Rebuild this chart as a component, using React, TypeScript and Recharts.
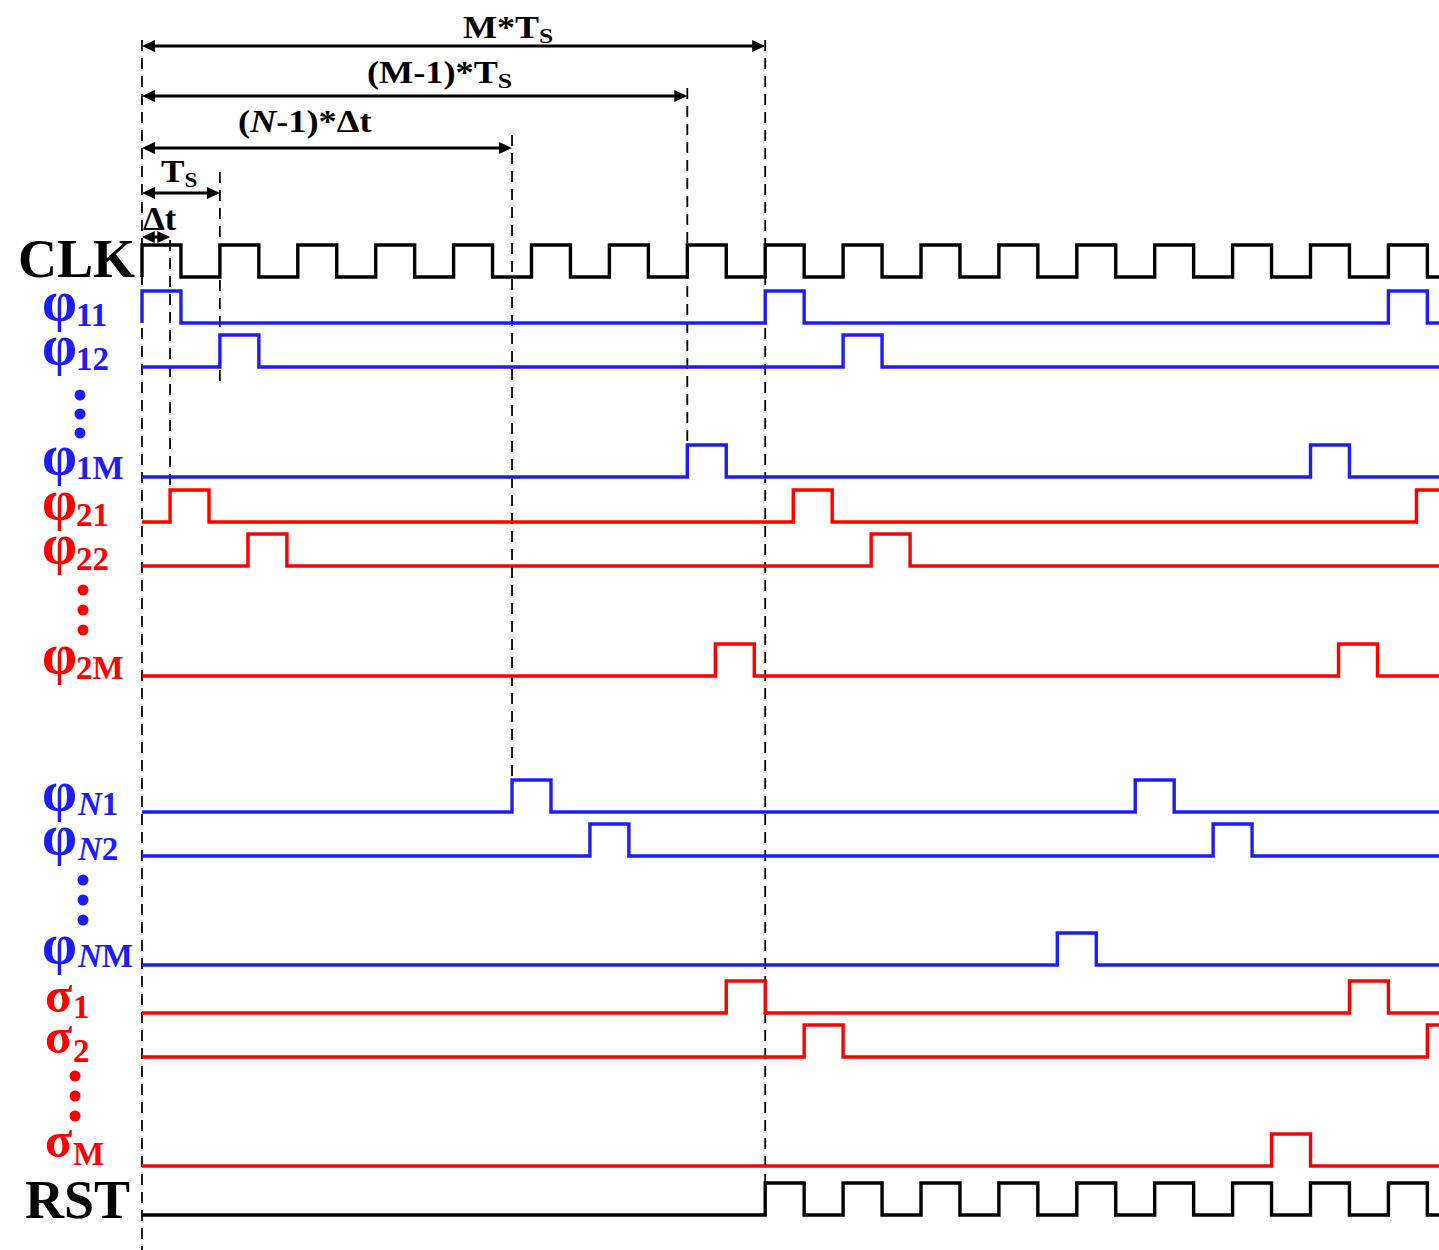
import React from "react";
import { ComposedChart, Line, XAxis, YAxis, ReferenceLine } from "recharts";

// pulse start times, in sample periods Ts (t = 0 is the first CLK edge)
const PULSE_WIDTH = 0.5;
const CLK_RISES = [0, 1, 2, 3, 4, 5, 6, 7, 8, 9, 10, 11, 12, 13, 14, 15, 16];
const PHI_11 = [0, 8, 16];
const PHI_12 = [1, 9];
const PHI_1M = [7, 15];
const PHI_21 = [0.36, 8.36, 16.36];
const PHI_22 = [1.36, 9.36];
const PHI_2M = [7.36, 15.36];
const PHI_N1 = [4.75, 12.75];
const PHI_N2 = [5.75, 13.75];
const PHI_NM = [11.75];
const SIGMA_1 = [7.5, 15.5];
const SIGMA_2 = [8.5, 16.5];
const SIGMA_M = [14.5];
const RST_RISES = [8, 9, 10, 11, 12, 13, 14, 15, 16];

// dashed guides and dimension arrows (times in Ts)
const GUIDE_TIMES = [0, 0.36, 1, 4.75, 7, 8];
const SPAN_ENDS = [8, 7, 4.75, 1, 0.36];

// ---- layout ----
const W = 1439;
const H = 1250;
const X0 = 142;
const PX_PER_TS = 77.9;
const T_MIN = -X0 / PX_PER_TS;
const T_MAX = (W - X0) / PX_PER_TS;
const AMP = 32;
const BLUE = "#1c1cff";
const RED = "#ff0000";
const FONT = "'Liberation Serif', 'Times New Roman', serif";

const GUIDE_Y = [[40, 1250], [240, 490], [172, 383], [135, 780], [88, 478], [40, 1183]];
const SPAN_Y = [46, 96, 148, 193, 237];

const SIGNALS = [
  { key: "clk", rises: CLK_RISES, low: 277, color: "#000" },
  { key: "p11", rises: PHI_11, low: 323, color: BLUE },
  { key: "p12", rises: PHI_12, low: 367, color: BLUE },
  { key: "p1m", rises: PHI_1M, low: 477, color: BLUE },
  { key: "p21", rises: PHI_21, low: 522, color: RED },
  { key: "p22", rises: PHI_22, low: 566, color: RED },
  { key: "p2m", rises: PHI_2M, low: 676, color: RED },
  { key: "pn1", rises: PHI_N1, low: 812, color: BLUE },
  { key: "pn2", rises: PHI_N2, low: 856, color: BLUE },
  { key: "pnm", rises: PHI_NM, low: 965, color: BLUE },
  { key: "s1", rises: SIGMA_1, low: 1013, color: RED },
  { key: "s2", rises: SIGMA_2, low: 1057, color: RED },
  { key: "sm", rises: SIGMA_M, low: 1166, color: RED },
  { key: "rst", rises: RST_RISES, low: 1215, color: "#000" },
];

// row names: glyph + subscript (italic first char for the N rows)
const LABELS = [
  { g: "φ", sub: "11", y: 320, sy: 326, color: BLUE },
  { g: "φ", sub: "12", y: 364, sy: 370, color: BLUE },
  { g: "φ", sub: "1M", y: 474, sy: 479, color: BLUE },
  { g: "φ", sub: "21", y: 519, sy: 526, color: RED },
  { g: "φ", sub: "22", y: 563, sy: 570, color: RED },
  { g: "φ", sub: "2M", y: 673, sy: 679, color: RED },
  { g: "φ", sub: "N1", y: 810, sy: 815, color: BLUE, it: true },
  { g: "φ", sub: "N2", y: 854, sy: 860, color: BLUE, it: true },
  { g: "φ", sub: "NM", y: 963, sy: 967, color: BLUE, it: true },
  { g: "σ", sub: "1", y: 1012, sy: 1018, color: RED },
  { g: "σ", sub: "2", y: 1053, sy: 1062, color: RED },
  { g: "σ", sub: "M", y: 1157, sy: 1165, color: RED },
];

const DOTS = [
  { x: 80, ys: [395, 414, 433], color: BLUE },
  { x: 83, ys: [590, 610, 630], color: RED },
  { x: 83, ys: [880, 900, 920], color: BLUE },
  { x: 75, ys: [1076, 1096, 1116], color: RED },
];

function wave(rises: number[], low: number) {
  const high = low - AMP;
  const pts: { t: number; y: number }[] = [{ t: 0, y: low }];
  rises.forEach((r) => {
    const f = r + PULSE_WIDTH;
    pts.push({ t: r, y: low }, { t: r, y: high });
    if (f < T_MAX) {
      pts.push({ t: f, y: high }, { t: f, y: low });
    } else {
      pts.push({ t: T_MAX, y: high });
    }
  });
  const last = pts[pts.length - 1];
  if (last.t < T_MAX) pts.push({ t: T_MAX, y: low });
  return pts;
}

function Arrow(props: any) {
  const { x1, y1, x2 } = props;
  const len = Math.min(13, (x2 - x1) / 2.2);
  const hw = 6;
  return (
    <g>
      <line x1={x1 + len - 1} y1={y1} x2={x2 - len + 1} y2={y1} stroke="#000" strokeWidth={3} />
      <polygon points={`${x1},${y1} ${x1 + len},${y1 - hw} ${x1 + len},${y1 + hw}`} fill="#000" />
      <polygon points={`${x2},${y1} ${x2 - len},${y1 - hw} ${x2 - len},${y1 + hw}`} fill="#000" />
    </g>
  );
}

// stretched bold serif text (the source figure uses a wide Times)
function Wide({ x, y, sx, size, children }: any) {
  return (
    <text transform={`translate(${x},${y}) scale(${sx},1)`} fontSize={size} fill="#000">
      {children}
    </text>
  );
}

export default function App() {
  return (
    <div style={{ position: "absolute", left: 0, top: 0, width: W, height: H, background: "#fff" }}>
      <ComposedChart width={W} height={H} margin={{ top: 0, right: 0, bottom: 0, left: 0 }}>
        <XAxis type="number" dataKey="t" domain={[T_MIN, T_MAX]} hide allowDataOverflow />
        <YAxis type="number" dataKey="y" domain={[0, H]} reversed hide allowDataOverflow />
        {GUIDE_TIMES.map((t, i) => (
          <ReferenceLine
            key={"g" + i}
            segment={[{ x: t, y: GUIDE_Y[i][0] }, { x: t, y: GUIDE_Y[i][1] }]}
            stroke="#000"
            strokeWidth={1.8}
            strokeDasharray="11 7"
          />
        ))}
        {SPAN_ENDS.map((t, i) => (
          <ReferenceLine
            key={"s" + i}
            segment={[{ x: 0, y: SPAN_Y[i] }, { x: t, y: SPAN_Y[i] }]}
            shape={(p: any) => <Arrow {...p} />}
          />
        ))}
        {SIGNALS.map((s) => (
          <Line
            key={s.key}
            data={wave(s.rises, s.low)}
            dataKey="y"
            type="linear"
            stroke={s.color}
            strokeWidth={3.4}
            dot={false}
            activeDot={false}
            isAnimationActive={false}
          />
        ))}
      </ComposedChart>
      <svg width={W} height={H} style={{ position: "absolute", left: 0, top: 0, pointerEvents: "none" }}>
        <g fontFamily={FONT} fontWeight="bold">
          <text x={18} y={277} fontSize={54} fill="#000">CLK</text>
          <text x={25} y={1218} fontSize={54} fill="#000">RST</text>
          {LABELS.map((l, i) => {
            const sigma = l.g === "σ";
            const subX = sigma ? 73 : l.it ? 78 : 76;
            return (
              <text key={i} x={sigma ? 45 : 42} y={l.y} fontSize={sigma ? 50 : 56} fill={l.color}>
                {l.g}
                <tspan x={subX} y={l.sy} fontSize={33} fontStyle={l.it ? "italic" : undefined}>
                  {l.sub[0]}
                </tspan>
                <tspan fontSize={33}>{l.sub.slice(1)}</tspan>
              </text>
            );
          })}
          {DOTS.map((d, i) =>
            d.ys.map((y, j) => <circle key={i + "-" + j} cx={d.x} cy={y} r={5.5} fill={d.color} />)
          )}
          <Wide x={463} y={38} sx={1.16} size={31}>
            M*T<tspan fontSize={22} dy={5}>S</tspan>
          </Wide>
          <Wide x={367} y={83} sx={1.17} size={31}>
            (M-1)*T<tspan fontSize={22} dy={5}>S</tspan>
          </Wide>
          <Wide x={238} y={132} sx={1.17} size={31}>
            (<tspan fontStyle="italic">N</tspan>-1)*Δt
          </Wide>
          <Wide x={161} y={182} sx={1.1} size={32}>
            T<tspan fontSize={21} dy={5}>S</tspan>
          </Wide>
          <Wide x={143} y={230} sx={1.05} size={33}>
            Δt
          </Wide>
        </g>
      </svg>
    </div>
  );
}
